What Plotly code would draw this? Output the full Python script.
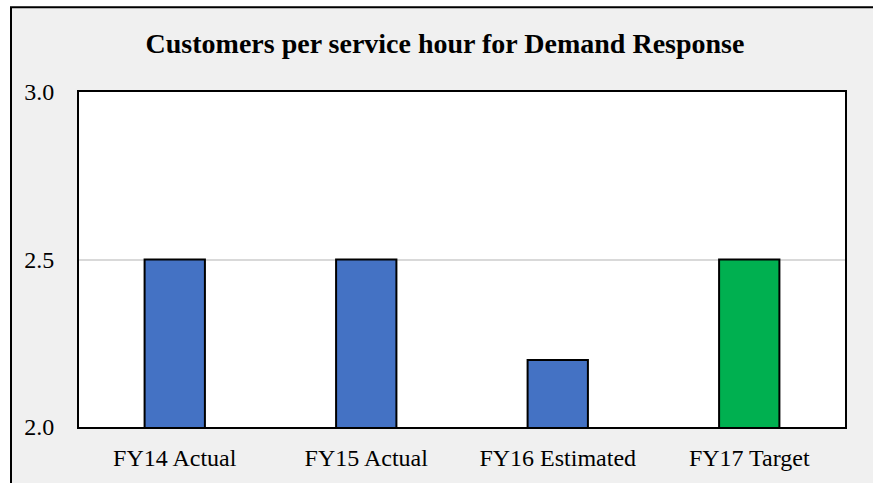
import plotly.graph_objects as go

categories = ["FY14 Actual", "FY15 Actual", "FY16 Estimated", "FY17 Target"]
values = [2.5, 2.5, 2.2, 2.5]
colors = ["#4472C4", "#4472C4", "#4472C4", "#00B050"]
y_ticks = [2.0, 2.5, 3.0]
y_tick_text = ["2.0", "2.5", "3.0"]
title_text = "Customers per service hour for Demand Response"

W, H = 873, 483
L, R, T, B = 79, 28, 92, 51
pw, ph = W - L - R, H - T - B

def px_x(p):
    return (p - L) / pw

def px_y(p):
    return (H - B - p) / ph

fig = go.Figure(go.Bar(
    x=categories, y=values,
    marker=dict(color=colors, line=dict(color="black", width=2)),
    width=0.315,
))

font_family = "Liberation Serif, Times New Roman, serif"

fig.update_layout(
    width=W, height=H,
    margin=dict(l=L, r=R, t=T, b=B),
    paper_bgcolor="white",
    plot_bgcolor="white",
    showlegend=False,
    font=dict(family=font_family, color="black", size=24),
    title=dict(text="<b>" + title_text + "</b>", x=445 / W, xanchor="center",
               xref="container", yref="container", y=1 - 43 / H, yanchor="middle",
               font=dict(size=28, family=font_family, color="black")),
    shapes=[
        dict(type="rect", xref="paper", yref="paper", layer="below",
             x0=px_x(11), x1=px_x(890), y0=px_y(500), y1=px_y(6),
             fillcolor="#F0F0F0", line=dict(color="black", width=2)),
        dict(type="rect", xref="paper", yref="paper", layer="below",
             x0=0, x1=1, y0=0, y1=1, fillcolor="white", line=dict(width=0)),
    ],
)

fig.update_xaxes(
    showline=True, linecolor="black", linewidth=2, mirror=True,
    ticks="", ticklabelstandoff=8, showgrid=False,
    tickfont=dict(size=24, family=font_family, color="black"),
)
fig.update_yaxes(
    range=[2, 3], tickvals=y_ticks, ticktext=y_tick_text,
    showline=True, linecolor="black", linewidth=2, mirror=True,
    showgrid=True, gridcolor="#D9D9D9", gridwidth=1.5,
    ticks="", ticklabelstandoff=18, zeroline=False,
    tickfont=dict(size=24, family=font_family, color="black"),
)

fig.write_html("out.html", config={"displayModeBar": False},
               post_script="document.body.style.margin='0';document.body.style.overflow='hidden';")
